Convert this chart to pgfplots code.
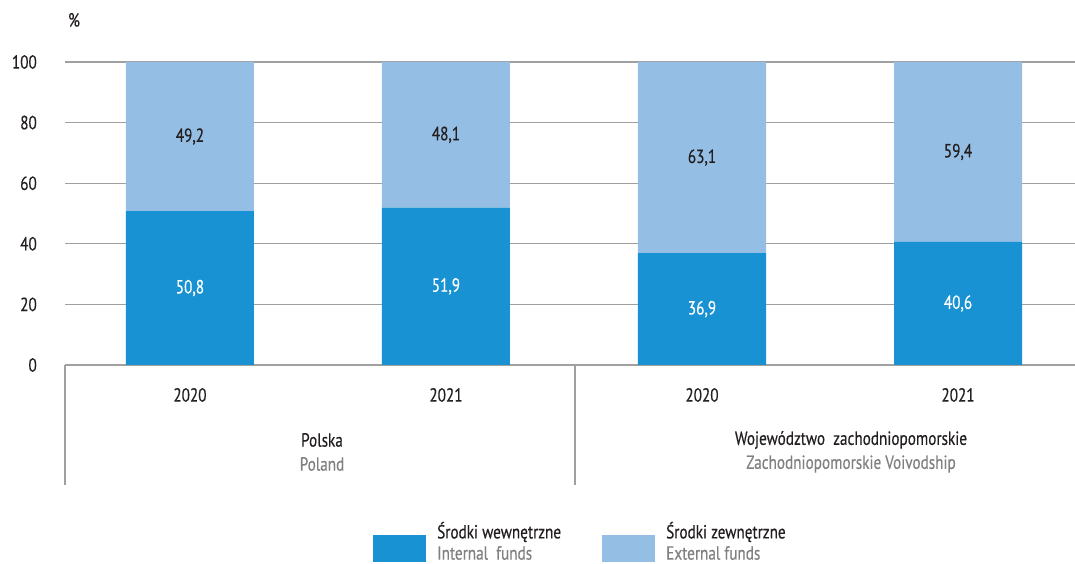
\documentclass[border=0pt]{standalone}
\usepackage{pgfplots}
\pgfplotsset{compat=1.18}
\usepackage{fontspec}
\setmainfont{PT Sans}[FakeStretch=0.8, FakeBold=0.4]
\definecolor{dblue}{RGB}{24,146,211}
\definecolor{lblue}{RGB}{148,190,227}
\definecolor{gridc}{RGB}{160,160,160}
\definecolor{txt}{RGB}{35,31,32}
\definecolor{eng}{RGB}{128,128,128}
\begin{document}
\begin{tikzpicture}[x=1pt,y=1pt,font=\fontsize{19pt}{22pt}\selectfont, text=txt]
\useasboundingbox (0,0) rectangle (1075,564);
\begin{axis}[at={(65pt,199pt)}, anchor=south west, scale only axis,
  width=1010pt, height=303pt,
  ybar stacked, bar width=0.5,
  xmin=-0.488, xmax=3.457, ymin=0, ymax=100,
  ytick={0,20,...,100}, xtick={0,1,2,3},
  xticklabels={2020,2021,2020,2021},
  axis line style={draw=none}, major tick length=0pt,
  ymajorgrids, grid style={gridc, line width=1.2pt},
  /pgf/number format/assume math mode=true,
  yticklabel style={anchor=east, inner sep=0pt, xshift=-28pt, text=txt},
  xticklabel style={anchor=center, inner sep=0pt, yshift=-30pt, text=txt},
  clip=false]
\addplot[fill=dblue, draw=none] coordinates {(0,50.8) (1,51.9) (2,36.9) (3,40.6)};
\addplot[fill=lblue, draw=none] coordinates {(0,49.2) (1,48.1) (2,63.1) (3,59.4)};
\coordinate (a1) at (axis cs:0,25.4);
\coordinate (a2) at (axis cs:1,25.95);
\coordinate (a3) at (axis cs:2,18.45);
\coordinate (a4) at (axis cs:3,20.3);
\coordinate (b1) at (axis cs:0,75.4);
\coordinate (b2) at (axis cs:1,75.95);
\coordinate (b3) at (axis cs:2,68.45);
\coordinate (b4) at (axis cs:3,70.3);
\end{axis}
\node[text=white] at (a1) {50,8};
\node[text=white] at (a2) {51,9};
\node[text=white] at (a3) {36,9};
\node[text=white] at (a4) {40,6};
\node at (b1) {49,2};
\node at (b2) {48,1};
\node at (b3) {63,1};
\node at (b4) {59,4};
\draw[gridc, line width=1.2pt] (65,199) -- (65,79);
\draw[gridc, line width=1.2pt] (575,199) -- (575,79);
\node at (74,544) {\%};
\node at (322,124) {Polska};
\node[text=eng] at (322,100) {Poland};
\node at (851,124) {Województwo\ \ zachodniopomorskie};
\node[text=eng] at (851,100) {Zachodniopomorskie Voivodship};
\fill[dblue] (373,2) rectangle (426,29);
\fill[lblue] (602,2) rectangle (655,29);
\node[anchor=west, inner sep=0pt] at (437,32) {Środki wewnętrzne};
\node[anchor=west, inner sep=0pt, text=eng] at (437,11) {Internal\ \ funds};
\node[anchor=west, inner sep=0pt] at (666,32) {Środki zewnętrzne};
\node[anchor=west, inner sep=0pt, text=eng] at (666,11) {External funds};
\end{tikzpicture}
\end{document}
